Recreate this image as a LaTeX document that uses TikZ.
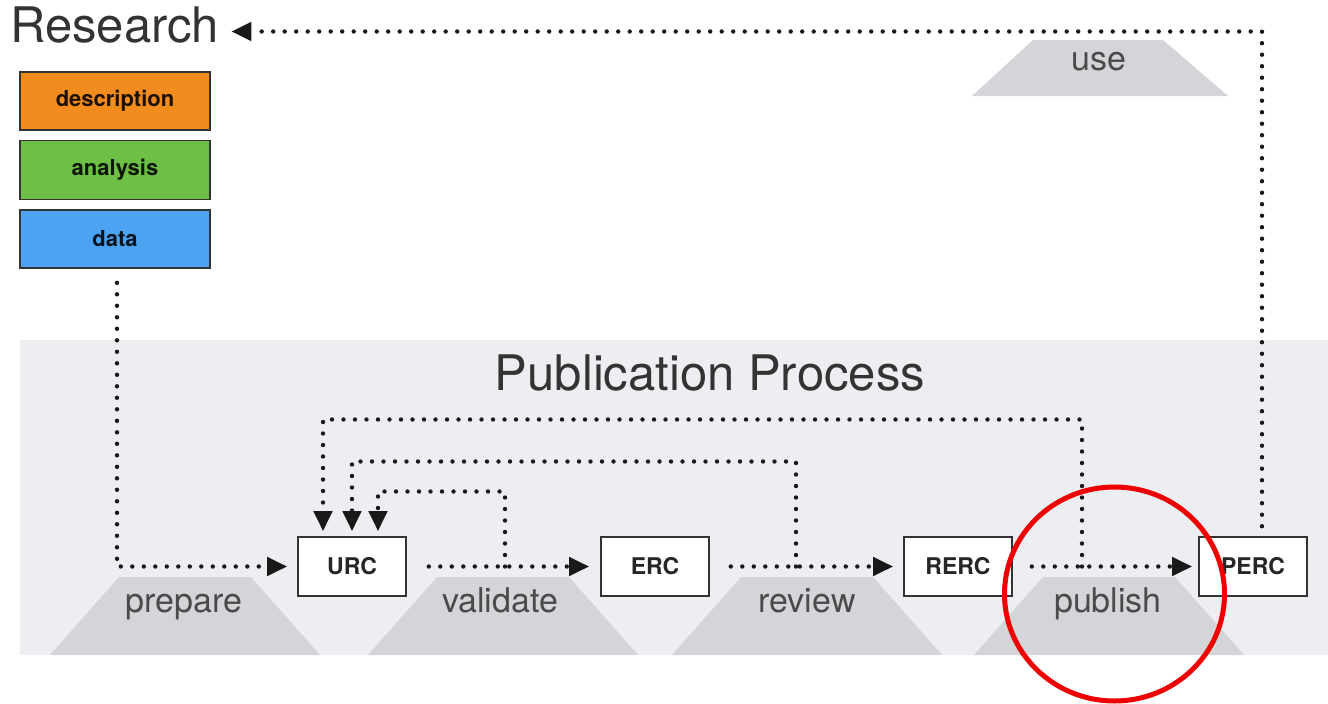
\documentclass[tikz,border=0pt]{standalone}
\usepackage{fontspec}
\setmainfont{TeX Gyre Heros}
\usetikzlibrary{arrows.meta,calc}
\definecolor{panel}{HTML}{EDEEF1}
\definecolor{trapcol}{HTML}{D4D5D8}
\definecolor{labelcol}{HTML}{4A4A4A}
\definecolor{titlecol}{HTML}{333333}
\definecolor{boxline}{HTML}{333333}
\definecolor{orangebox}{HTML}{F28C1E}
\definecolor{greenbox}{HTML}{6DBF45}
\definecolor{bluebox}{HTML}{4CA3F2}
\definecolor{circred}{HTML}{EE0000}
\begin{document}
\begin{tikzpicture}[x=1pt,y=-1pt,
  rbox/.style={draw=boxline, line width=1.6pt, minimum width=190pt, minimum height=58pt, inner sep=0pt,
    font=\fontsize{22}{26}\selectfont\bfseries},
  pbox/.style={draw=boxline, fill=white, line width=1.6pt, minimum width=108pt, minimum height=59pt, inner sep=0pt,
    font=\fontsize{23}{27}\selectfont\bfseries, text=black!85},
  dotline/.style={line width=4.4pt, dash pattern=on 0pt off 11.5pt, line cap=round, draw=black!90},
  tip/.style={-{Triangle[length=20pt,width=18pt]}},
  steplabel/.style={font=\fontsize{34}{38}\selectfont, text=labelcol, anchor=base, inner sep=0pt},
  title/.style={font=\fontsize{49}{56}\selectfont, text=titlecol, inner sep=0pt}
]
\useasboundingbox (0,0) rectangle (1328,704);
\fill[white] (0,0) rectangle (1328,704);
% panel
\fill[panel] (20,340) rectangle (1328,655);
% trapezoids
\foreach \cx/\t in {185/prepare, 503/validate, 807/review, 1109/publish}{
  \fill[trapcol] (\cx-66,577) -- (\cx+66,577) -- (\cx+135,655) -- (\cx-135,655) -- cycle;
}
\fill[trapcol] (1033,40) -- (1163,40) -- (1228,96) -- (972,96) -- cycle;
\node[steplabel] (lprepare) at (184,612) {prepare};
\node[steplabel] (lvalidate) at (500,612) {validate};
\node[steplabel] (lreview) at (807,612) {review};
\node[steplabel] (lpublish) at (1108,612) {publish};
\node[steplabel] (luse) at (1099,70) {use};
% titles
\node[title, anchor=base west] (Research) at (10,42) {Research};
\node[title, anchor=base] (pp) at (710,390) {Publication Process};
% research boxes
\node[rbox, fill=orangebox, text=black!80!orangebox!60!black] (description) at (115,101) {description};
\node[rbox, fill=greenbox, text=black!80!greenbox!60!black, minimum height=59pt] (analysis) at (115,170) {analysis};
\node[rbox, fill=bluebox, text=black!80!bluebox!60!black] (data) at (115,239) {data};
% process boxes
\node[pbox] (URC) at (352,566.5) {URC};
\node[pbox] (ERC) at (655,566.5) {ERC};
\node[pbox] (RERC) at (958,566.5) {RERC};
\node[pbox] (PERC) at (1253,566.5) {PERC};
% loop origins
\coordinate (v1) at (505,566.5);
\coordinate (v2) at (796,566.5);
\coordinate (v3) at (1082,566.5);
% connectors
\draw[dotline, tip, shorten >=10pt] ([xshift=2pt,yshift=-14pt]data.south) |- (URC.west);
\draw[dotline, tip, shorten <=22pt, shorten >=11pt] (URC) -- (ERC);
\draw[dotline, tip, shorten <=21pt, shorten >=10pt] (ERC) -- (RERC);
\draw[dotline, tip, shorten <=19pt, shorten >=6pt] (RERC) -- (PERC);
\draw[dotline, tip, shorten >=5pt] (v1) -- ++(0,-75) -| ([xshift=26pt]URC.north);
\draw[dotline, tip, shorten >=5pt] (v2) -- ++(0,-105) -| (URC.north);
\draw[dotline, tip, shorten >=5pt] (v3) -- ++(0,-147) -| ([xshift=-29pt]URC.north);
\draw[dotline, tip, shorten <=10pt, shorten >=12pt] ([xshift=9pt]PERC.north) |- ([yshift=-7pt]Research.east);
% highlight
\draw[circred, line width=5pt] (1114.5,594) ellipse [x radius=110, y radius=107];
\end{tikzpicture}
\end{document}
